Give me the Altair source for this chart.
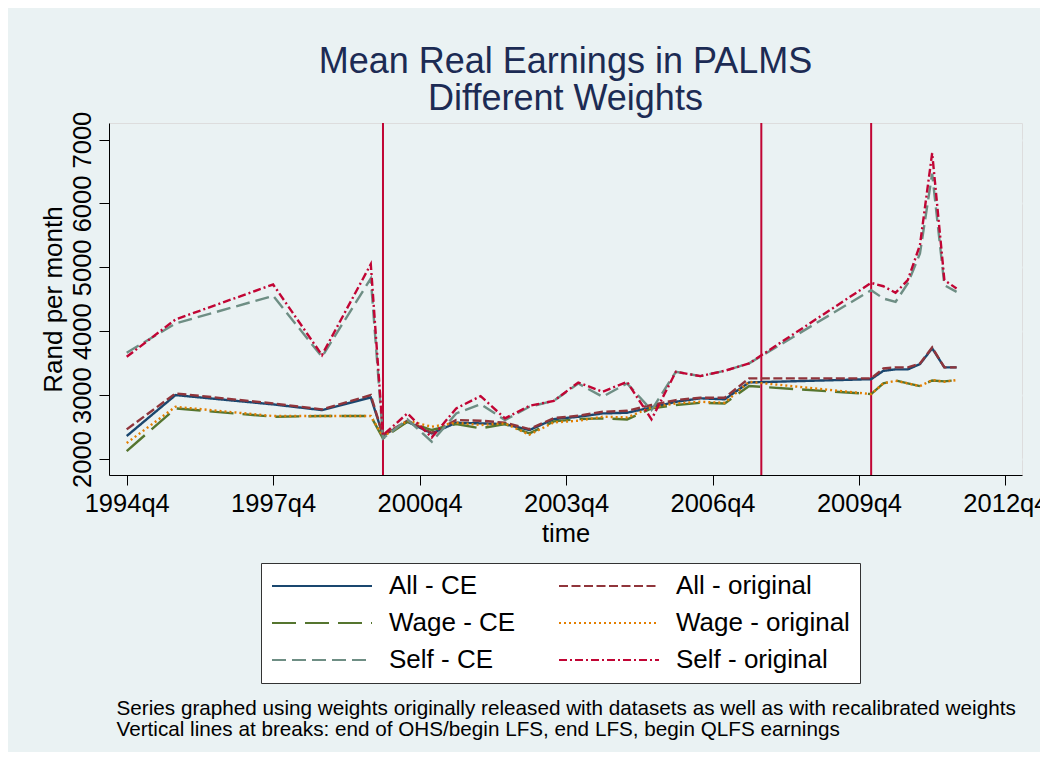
import altair as alt
import pandas as pd

FONT = "Liberation Sans"

# quarter index (Stata %tq: 1960q1 = 0)
quarters = [139, 143, 151, 155, 159, 160, 162, 164, 166, 168, 170, 172, 174, 176, 178,
            180, 182, 184, 186, 188, 190, 200, 201, 202, 203, 204, 205, 206, 207]

all_ce = [2360, 3001, 2855, 2766, 2965, 2370, 2584, 2401, 2568, 2558, 2547, 2453, 2625, 2661, 2714,
          2724, 2808, 2896, 2950, 2935, 3199, 3250, 3381, 3403, 3403, 3486, 3733, 3434, 3434]
all_orig = [2464, 3027, 2871, 2777, 3001, 2375, 2600, 2412, 2610, 2600, 2568, 2469, 2641, 2677, 2740,
            2755, 2845, 2923, 2960, 2960, 3262, 3262, 3418, 3434, 3434, 3497, 3747, 3434, 3434]
wage_ce = [2125, 2792, 2662, 2673, 2673, 2323, 2584, 2454, 2547, 2480, 2547, 2401, 2589, 2625, 2636,
           2620, 2792, 2845, 2880, 2870, 3142, 3017, 3184, 3230, 3184, 3142, 3230, 3215, 3236]
wage_orig = [2250, 2818, 2673, 2673, 2673, 2350, 2600, 2506, 2568, 2532, 2558, 2380, 2573, 2599, 2662,
             2652, 2808, 2871, 2896, 2880, 3209, 3017, 3184, 3225, 3184, 3142, 3236, 3209, 3236]
self_ce = [3663, 4122, 4554, 3600, 4826, 2323, 2620, 2271, 2714, 2860, 2610, 2818, 2911, 3182, 2975,
           3184, 2766, 3366, 3298, 3381, 3497, 4643, 4513, 4460, 4748, 5217, 6468, 4721, 4617]
self_orig = [3600, 4185, 4732, 3627, 5050, 2375, 2714, 2339, 2792, 2985, 2636, 2833, 2911, 3198, 3053,
             3209, 2621, 3366, 3298, 3381, 3497, 4757, 4705, 4601, 4800, 5350, 6790, 4800, 4670]

series_names = ["All - CE", "All - original", "Wage - CE", "Wage - original", "Self - CE", "Self - original"]
series_values = [all_ce, all_orig, wage_ce, wage_orig, self_ce, self_orig]
series_colors = ["#1a476f", "#90353b", "#55752f", "#e37e00", "#6e8e84", "#c10534"]
series_dashes = [[1, 0], [9, 3.5], [24, 9], [2, 3], [14, 6], [8, 3, 2, 3]]

break_quarters = [160, 191, 200]  # 2000q1, 2007q4, 2010q1
x_tick_values = [139, 151, 163, 175, 187, 199, 211]
y_tick_values = [2000, 3000, 4000, 5000, 6000, 7000]

title_lines = ["Mean Real Earnings in PALMS", "Different Weights"]
note_lines = ["Series graphed using weights originally released with datasets as well as with recalibrated weights",
              "Vertical lines at breaks: end of OHS/begin LFS, end LFS, begin QLFS earnings"]

rows = []
for name, vals in zip(series_names, series_values):
    for q, v in zip(quarters, vals):
        rows.append({"series": name, "q": q, "v": v})
df = pd.DataFrame(rows)
breaks_df = pd.DataFrame({"q": break_quarters})

xscale = alt.Scale(domain=[137.55, 212.36], nice=False, zero=False)
yscale = alt.Scale(domain=[1750, 7260], nice=False, zero=False)

legend = alt.Legend(
    title=None, orient="none", legendX=152, legendY=440, columns=2, direction="horizontal",
    columnPadding=42, rowPadding=11, symbolType="stroke", symbolSize=10000,
    symbolStrokeWidth=2, clipHeight=26, labelOffset=16, labelFontSize=26,
    labelFont=FONT, labelColor="black", labelLimit=400, padding=10,
    fillColor="white", strokeColor="#333333",
)

x_axis = alt.Axis(
    orient="bottom", values=x_tick_values,
    labelExpr="floor(datum.value/4)+1960 + 'q' + (datum.value%4+1)",
    title="time", titleY=66, titleBaseline="alphabetic",
    labelFontSize=25.5, titleFontSize=25.5, tickSize=10, labelPadding=6,
    grid=False, labelFlush=False, labelOverlap=False,
    domainColor="black", tickColor="black", labelColor="black", titleColor="black",
    titleFontWeight="normal", labelFont=FONT, titleFont=FONT,
)

y_axis = alt.Axis(
    values=y_tick_values, format="d", title="Rand per month",
    labelAngle=270, labelAlign="center", labelBaseline="bottom", labelPadding=4,
    tickSize=10, titleX=-56, titleBaseline="middle",
    labelFontSize=25.5, titleFontSize=26, grid=True, gridColor="#EAF2F3", gridWidth=2,
    domainColor="black", tickColor="black", labelColor="black", titleColor="black",
    titleFontWeight="normal", labelFont=FONT, titleFont=FONT, labelOverlap=False,
)

note_axis = alt.Axis(
    orient="bottom", title=note_lines, labels=False, ticks=False, domain=False, grid=False,
    titleX=7, titleY=239, titleAlign="left", titleAnchor="start", titleBaseline="alphabetic",
    titleFontSize=20.7, titleLineHeight=21, titleColor="black", titleFontWeight="normal",
    titleFont=FONT,
)

rules = alt.Chart(breaks_df).mark_rule(color="#c10534", strokeWidth=2).encode(
    x=alt.X("q:Q", scale=xscale, axis=note_axis)
)

lines = alt.Chart(df).mark_line(strokeWidth=2.4).encode(
    x=alt.X("q:Q", scale=xscale, axis=x_axis),
    y=alt.Y("v:Q", scale=yscale, axis=y_axis),
    color=alt.Color("series:N", scale=alt.Scale(domain=series_names, range=series_colors), legend=legend),
    strokeDash=alt.StrokeDash("series:N", scale=alt.Scale(domain=series_names, range=series_dashes), legend=legend),
    order=alt.Order("q:Q"),
)

chart = alt.layer(rules, lines).resolve_axis(x="independent").properties(
    width=913, height=352,
    title=alt.TitleParams(text=title_lines, fontSize=36, font=FONT, fontWeight="normal",
                          color="#1c2b54", lineHeight=37, anchor="middle", frame="group", offset=-7),
    padding={"left": 101, "top": 115, "right": 18, "bottom": 277},
    autosize=alt.AutoSizeParams(type="none"),
    background="#EAF2F3",
).configure_view(fill="white", strokeWidth=0).configure(font=FONT)

chart.save("out.html", embed_options={"renderer": "svg", "actions": False})
